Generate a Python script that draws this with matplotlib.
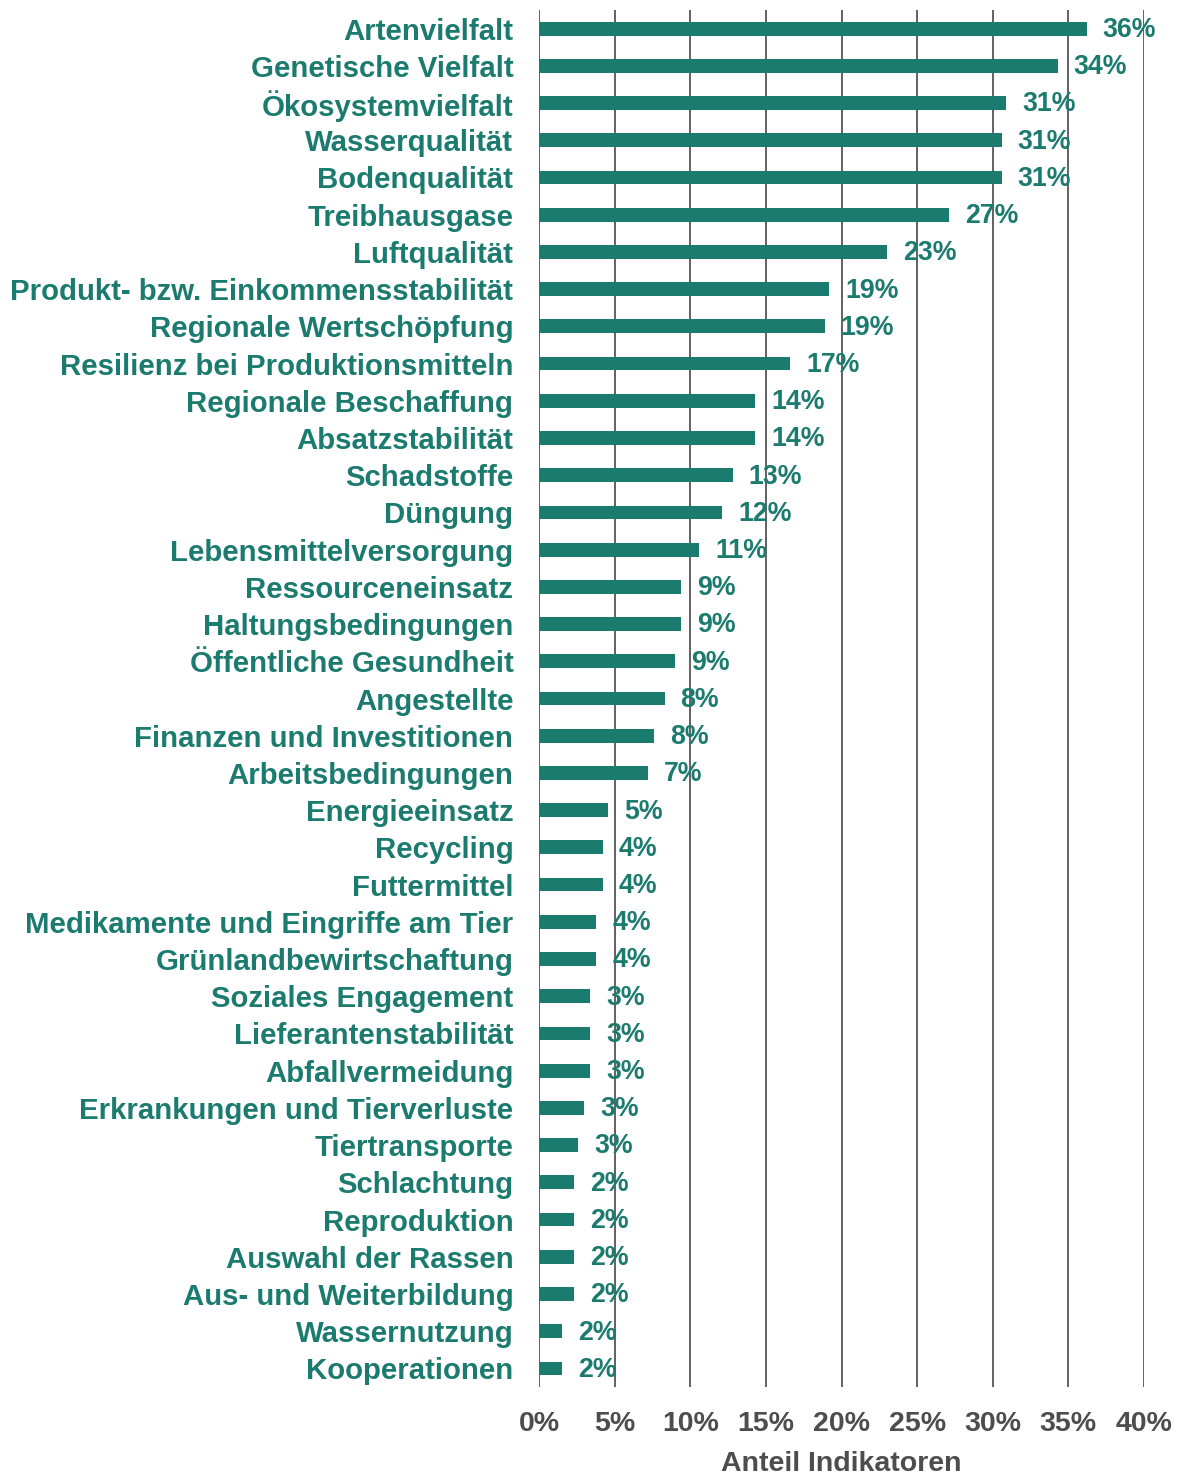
import matplotlib.pyplot as plt
from matplotlib.ticker import FuncFormatter

# Anteil der Indikatoren je Themenbereich (in %)
themen = [
    "Artenvielfalt", "Genetische Vielfalt", "Ökosystemvielfalt", "Wasserqualität",
    "Bodenqualität", "Treibhausgase", "Luftqualität",
    "Produkt- bzw. Einkommensstabilität", "Regionale Wertschöpfung",
    "Resilienz bei Produktionsmitteln", "Regionale Beschaffung", "Absatzstabilität",
    "Schadstoffe", "Düngung", "Lebensmittelversorgung", "Ressourceneinsatz",
    "Haltungsbedingungen", "Öffentliche Gesundheit", "Angestellte",
    "Finanzen und Investitionen", "Arbeitsbedingungen", "Energieeinsatz",
    "Recycling", "Futtermittel", "Medikamente und Eingriffe am Tier",
    "Grünlandbewirtschaftung", "Soziales Engagement", "Lieferantenstabilität",
    "Abfallvermeidung", "Erkrankungen und Tierverluste", "Tiertransporte",
    "Schlachtung", "Reproduktion", "Auswahl der Rassen", "Aus- und Weiterbildung",
    "Wassernutzung", "Kooperationen",
]
anteil = [
    36.2, 34.3, 30.9, 30.6, 30.6, 27.1, 23.0,
    19.2, 18.9, 16.6, 14.3, 14.3,
    12.8, 12.1, 10.6, 9.4, 9.4, 9.0, 8.3,
    7.6, 7.2, 4.55, 4.2, 4.2, 3.8,
    3.8, 3.4, 3.4, 3.4, 3.0, 2.6,
    2.3, 2.3, 2.3, 2.3, 1.52, 1.52,
]
x_ticks = [0, 5, 10, 15, 20, 25, 30, 35, 40]

gruen = "#1c7b6f"
grau = "#4d4d4d"

plt.rcParams["font.family"] = ["Liberation Sans", "DejaVu Sans"]
plt.rcParams["font.weight"] = "bold"

fig = plt.figure(figsize=(11.8, 14.76), dpi=100)
ax = fig.add_axes([0.4568, 0.0603, 0.9695 - 0.4568, 0.99322 - 0.0603])

y = list(range(len(themen)))
ax.barh(y, anteil, height=0.37, color=gruen, zorder=3)

# Werte rechts neben den Balken
for yi, v in zip(y, anteil):
    ax.annotate(f"{v:.0f}%", xy=(v, yi), xytext=(11.5, -1), textcoords="offset points",
                ha="left", va="center", color=gruen, fontsize=19.3,
                fontweight="bold", zorder=2)

ax.set_ylim(len(themen) - 0.5, -0.5)
ax.set_xlim(0, 40)
ax.set_yticks(y)
ax.set_yticklabels(themen, color=gruen, fontsize=21.2, fontweight="bold")
ax.set_xticks(x_ticks)
ax.xaxis.set_major_formatter(FuncFormatter(lambda v, p: f"{v:.0f}%"))
ax.tick_params(axis="x", length=0, pad=17, labelsize=20.5, labelcolor=grau)
ax.tick_params(axis="y", length=0, pad=18.5)

for t in x_ticks:
    ax.axvline(t, color="#555555", linewidth=1.3, zorder=1)

for s in ax.spines.values():
    s.set_visible(False)

ax.set_xlabel("Anteil Indikatoren", color=grau, fontsize=20.5, fontweight="bold",
              labelpad=10.5)

fig.savefig("out.png", dpi=100)
